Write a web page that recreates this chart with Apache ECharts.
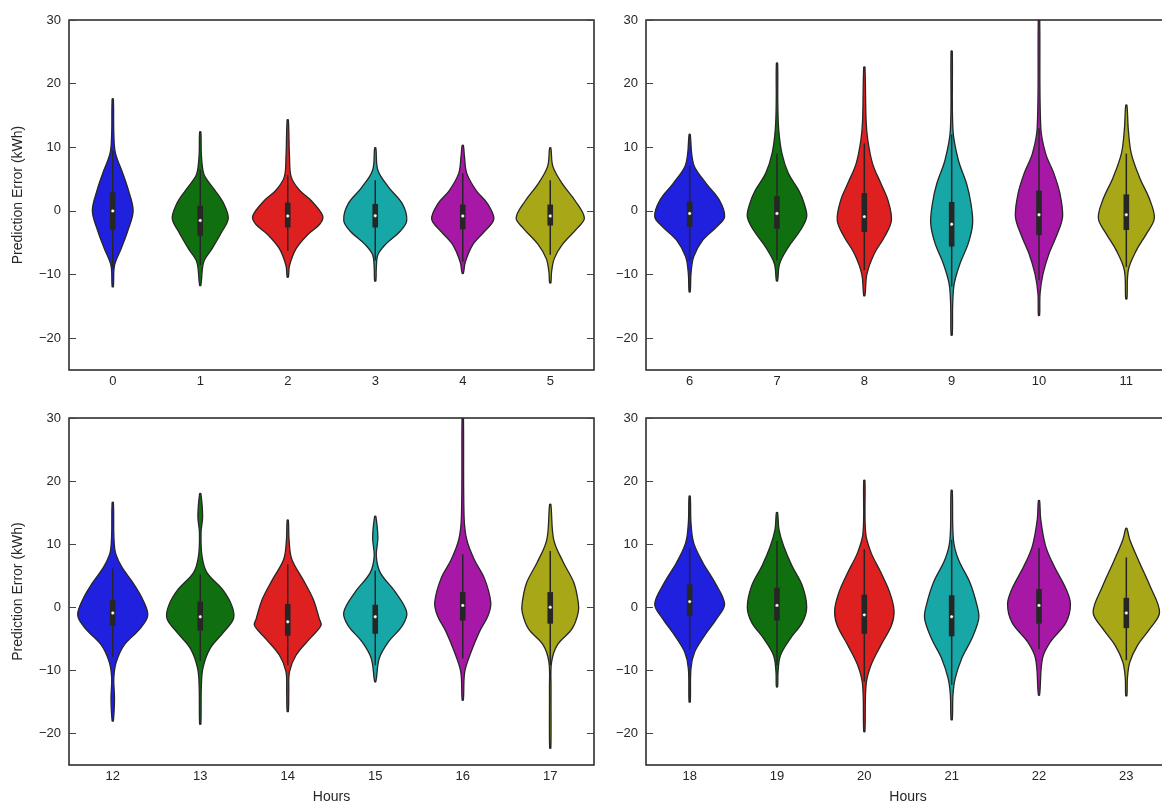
<!DOCTYPE html>
<html><head><meta charset="utf-8">
<script src="https://cdn.jsdelivr.net/npm/echarts@6/dist/echarts.min.js"></script>
<style>html,body{margin:0;padding:0;background:#fff}#c{width:1162px;height:806px}</style>
</head><body><div id="c"></div>
<script>
// ---------- DATA ----------
const hours = ['0','1','2','3','4','5','6','7','8','9','10','11','12','13','14','15','16','17','18','19','20','21','22','23'];
const palette = ['#2020df','#107010','#df2020','#18a7a7','#a718a7','#a7a718'];
// violin outline profiles: [value (kWh), half-width (fraction of category band)], top to bottom
const profiles = [
 [[17.6,0.007],[12.3,0.012],[9.1,0.03],[5.9,0.115],[3.2,0.18],[0,0.233],[-3.2,0.17],[-5.9,0.097],[-8.6,0.02],[-11.9,0.007]],
 [[12.4,0.007],[9,0.012],[6.4,0.03],[5.3,0.057],[3.2,0.17],[1.1,0.27],[-1.2,0.32],[-3.2,0.25],[-5.9,0.137],[-8.0,0.04],[-11.7,0.007]],
 [[14.3,0.007],[8.5,0.02],[5.3,0.04],[3.2,0.137],[1.6,0.27],[-0.8,0.40],[-2.1,0.365],[-3.7,0.23],[-5.9,0.097],[-8.6,0.02],[-10.4,0.007]],
 [[9.9,0.007],[6.4,0.03],[3.7,0.154],[1.1,0.31],[-1.5,0.36],[-3.2,0.285],[-5.3,0.115],[-6.9,0.03],[-9,0.012],[-11.0,0.007]],
 [[10.3,0.007],[8.5,0.02],[5.9,0.046],[3.2,0.154],[1.1,0.285],[-1.3,0.355],[-3.2,0.25],[-5.3,0.115],[-8.0,0.03],[-9.8,0.007]],
 [[9.9,0.007],[7.0,0.03],[4.3,0.137],[1.6,0.285],[-1.1,0.39],[-2.7,0.31],[-5.3,0.137],[-7.5,0.046],[-9.6,0.015],[-11.3,0.007]],
 [[12.0,0.007],[9.0,0.023],[6.9,0.057],[4.3,0.19],[1.7,0.34],[-0.9,0.40],[-2.5,0.31],[-4.6,0.15],[-7.2,0.046],[-9.9,0.015],[-12.7,0.007]],
 [[23.2,0.007],[17,0.009],[12.7,0.02],[9.0,0.057],[5.9,0.13],[3.2,0.25],[1.2,0.31],[-0.9,0.34],[-3.0,0.27],[-5.7,0.13],[-8.3,0.03],[-11.0,0.007]],
 [[22.6,0.007],[14.3,0.02],[11.1,0.04],[7.4,0.095],[4.3,0.19],[1.7,0.27],[-1.5,0.31],[-4.1,0.23],[-6.7,0.115],[-9.9,0.03],[-13.3,0.007]],
 [[25.1,0.007],[12.7,0.015],[8.0,0.076],[4.3,0.17],[1.2,0.22],[-2.0,0.24],[-5.1,0.19],[-8.3,0.095],[-11.4,0.03],[-14.6,0.012],[-19.5,0.007]],
 [[31,0.007],[13.2,0.02],[9.0,0.076],[5.9,0.17],[2.7,0.24],[-0.9,0.27],[-3.6,0.21],[-6.7,0.115],[-9.9,0.046],[-13.0,0.012],[-16.4,0.007]],
 [[16.6,0.007],[12.7,0.023],[9.0,0.057],[5.3,0.15],[1.7,0.27],[-1.2,0.32],[-3.6,0.23],[-6.2,0.115],[-9.3,0.023],[-13.8,0.007]],
 [[16.6,0.007],[9.2,0.023],[6.6,0.095],[3.9,0.23],[1.3,0.34],[-1.3,0.40],[-3.4,0.31],[-6.0,0.13],[-8.7,0.04],[-11.3,0.012],[-14.4,0.02],[-18.0,0.007]],
 [[18.0,0.007],[14.4,0.027],[11.8,0.009],[8.1,0.02],[5.5,0.076],[2.9,0.25],[0.3,0.36],[-1.8,0.38],[-3.9,0.27],[-6.6,0.11],[-9.7,0.03],[-12.8,0.012],[-18.5,0.007]],
 [[13.8,0.007],[10.7,0.015],[7.6,0.046],[4.5,0.17],[1.3,0.29],[-1.8,0.36],[-2.9,0.38],[-5.0,0.25],[-7.6,0.095],[-10.2,0.02],[-13.4,0.012],[-16.5,0.007]],
 [[14.4,0.007],[11.0,0.03],[8.1,0.012],[5.5,0.057],[2.4,0.23],[-0.8,0.36],[-2.9,0.31],[-5.5,0.15],[-8.1,0.046],[-11.8,0.007]],
 [[31,0.007],[14.4,0.015],[10.7,0.046],[7.6,0.13],[4.5,0.25],[0.8,0.32],[-1.3,0.29],[-3.9,0.19],[-7.1,0.095],[-10.2,0.023],[-14.7,0.007]],
 [[16.3,0.007],[10.7,0.04],[7.1,0.15],[3.9,0.27],[0.8,0.32],[-0.8,0.32],[-3.4,0.25],[-6.0,0.08],[-8.7,0.015],[-12.8,0.009],[-22.3,0.007]],
 [[17.6,0.007],[13.4,0.015],[10.2,0.046],[7.1,0.15],[3.9,0.29],[0.5,0.40],[-1.8,0.31],[-4.5,0.17],[-7.1,0.057],[-9.7,0.015],[-15.0,0.007]],
 [[15.0,0.007],[12.3,0.023],[9.7,0.076],[6.6,0.17],[3.4,0.29],[0,0.34],[-2.4,0.29],[-5.0,0.15],[-7.6,0.04],[-10.2,0.012],[-12.6,0.007]],
 [[20.1,0.007],[11.8,0.015],[8.7,0.076],[5.5,0.19],[2.4,0.29],[-0.5,0.34],[-2.9,0.31],[-6.0,0.19],[-9.2,0.076],[-12.3,0.02],[-19.7,0.007]],
 [[18.5,0.007],[10.7,0.02],[7.6,0.076],[3.9,0.21],[0.3,0.29],[-1.8,0.31],[-5.0,0.23],[-8.1,0.115],[-11.3,0.04],[-13.9,0.015],[-17.8,0.007]],
 [[16.9,0.007],[13.9,0.02],[9.7,0.076],[6.6,0.17],[2.9,0.31],[0.5,0.36],[-2.4,0.31],[-5.5,0.13],[-8.1,0.04],[-13.9,0.007]],
 [[12.5,0.007],[10.7,0.04],[7.1,0.15],[3.4,0.27],[-0.8,0.38],[-3.4,0.27],[-6.0,0.13],[-8.7,0.04],[-11.3,0.012],[-14.0,0.007]]
];
const q3 =      [2.9, 0.8, 1.3, 1.1, 1.0, 1.0, 1.5, 2.3, 2.8, 1.4, 3.2, 2.6, 1.2, 0.9, 0.5, 0.4, 2.4, 2.4, 3.6, 3.1, 2.0, 1.9, 2.9, 1.5];
const q1 =      [-2.95,-3.9,-2.6,-2.6,-2.9,-2.3,-2.5,-2.8,-3.3,-5.6,-3.8,-3.0,-2.9,-3.7,-4.5,-4.2,-2.1,-2.6,-1.4,-2.1,-4.2,-4.6,-2.6,-3.3];
const medians = [0,-1.5,-0.8,-0.75,-0.8,-0.8,-0.4,-0.4,-0.9,-2.1,-0.6,-0.6,-0.9,-1.5,-2.3,-1.5,0.3,0,0.9,0.3,-1.2,-1.5,0.3,-0.9];
const whiskerHigh = [9.5,6.5,5.6,4.8,5.9,4.8,7.1,9.0,10.6,12.0,13.0,9.0,6.1,5.2,6.8,5.8,8.4,8.9,9.4,10.5,9.2,10.7,9.4,7.9];
const whiskerLow =  [-9,-8.5,-6.3,-7.8,-8,-6.9,-7.8,-7.8,-9.3,-11.9,-10.9,-8.8,-7.9,-8.5,-9.2,-9.2,-8.1,-9.2,-6.7,-9.2,-11.8,-12.3,-6.6,-8.4];
const yTicks = [-20,-10,0,10,20,30];
const yLabel = 'Prediction Error (kWh)';
const xLabel = 'Hours';

// ---------- CHART ----------
const FONT = 'Liberation Sans, Arial, sans-serif';
const TXT = '#262626';
const GRAY = '#262626';
const grids = [
  {left:69, top:20, right:568, height:350},
  {left:646, top:20, right:-8, height:350},
  {left:69, top:418, right:568, height:347},
  {left:646, top:418, right:-8, height:347}
];
const fmt = v => (v < 0 ? '\u2212' + Math.abs(v) : String(v));

const xAxes = [], yAxes = [], series = [];
grids.forEach((g, p) => {
  g.show = true; g.borderColor = '#222'; g.borderWidth = 1.5; g.backgroundColor = 'transparent';
  g.containLabel = false; g.outerBoundsMode = 'none';
  const cats = hours.slice(p*6, p*6+6);
  xAxes.push({
    type:'category', gridIndex:p, data:cats, position:'bottom',
    axisLine:{show:false},
    axisTick:{show:true, inside:true, alignWithLabel:true, length:7, lineStyle:{color:'#444', width:1}},
    axisLabel:{color:TXT, fontSize:13, fontFamily:FONT, margin:5},
    name: p >= 2 ? xLabel : '', nameLocation:'middle', nameGap:25,
    nameTextStyle:{color:TXT, fontSize:14, fontFamily:FONT}
  });
  xAxes.push({
    type:'category', gridIndex:p, data:cats, position:'top',
    axisLine:{show:false},
    axisTick:{show:true, inside:true, alignWithLabel:true, length:7, lineStyle:{color:'#444', width:1}},
    axisLabel:{show:false}
  });
  yAxes.push({
    type:'value', gridIndex:p, min:-25, max:30, position:'left',
    axisLine:{show:false}, splitLine:{show:false},
    axisTick:{show:true, inside:true, length:7, customValues:yTicks, lineStyle:{color:'#444', width:1}},
    axisLabel:{color:TXT, fontSize:13, fontFamily:FONT, margin:8, customValues:yTicks, formatter:fmt},
    name: (p % 2 === 0) ? yLabel : '', nameLocation:'middle', nameGap:44,
    nameTextStyle:{color:TXT, fontSize:14, fontFamily:FONT}
  });
  yAxes.push({
    type:'value', gridIndex:p, min:-25, max:30, position:'right',
    axisLine:{show:false}, splitLine:{show:false},
    axisTick:{show:true, inside:true, length:7, customValues:yTicks, lineStyle:{color:'#444', width:1}},
    axisLabel:{show:false, customValues:yTicks}
  });
  const data = cats.map((c, i) => [i, medians[p*6+i]]);
  series.push({
    type:'custom', xAxisIndex:p*2, yAxisIndex:p*2, clip:true, silent:true,
    data: data,
    renderItem: function(params, api){
      const i = api.value(0);
      const h = p*6 + i;
      const band = api.size([1, 0])[0];
      const cx = api.coord([i, 0])[0];
      const prof = profiles[h];
      const right = prof.map(pt => [cx + pt[1]*band, api.coord([i, pt[0]])[1]]);
      const left = prof.slice().reverse().map(pt => [cx - pt[1]*band, api.coord([i, pt[0]])[1]]);
      const pts = right.concat(left);
      const yq3 = api.coord([i, q3[h]])[1], yq1 = api.coord([i, q1[h]])[1];
      const ym = api.coord([i, medians[h]])[1];
      const ywh = api.coord([i, whiskerHigh[h]])[1], ywl = api.coord([i, whiskerLow[h]])[1];
      return {
        type:'group',
        children:[
          {type:'polygon', shape:{points:pts, smooth:0.35},
           style:{fill:palette[i], stroke:GRAY, lineWidth:1.3}},
          {type:'line', shape:{x1:cx, y1:ywh, x2:cx, y2:ywl},
           style:{stroke:GRAY, lineWidth:1.5}},
          {type:'rect', shape:{x:cx-2.8, y:yq3, width:5.6, height:yq1-yq3},
           style:{fill:GRAY}},
          {type:'circle', shape:{cx:cx, cy:ym, r:1.7},
           style:{fill:'#fff', stroke:GRAY, lineWidth:0.4}}
        ]
      };
    }
  });
});

const chart = echarts.init(document.getElementById('c'), null, {renderer:'canvas'});
chart.setOption({
  animation:false,
  backgroundColor:'#fff',
  textStyle:{fontFamily:FONT},
  grid: grids,
  xAxis: xAxes,
  yAxis: yAxes,
  series: series
});
</script></body></html>
